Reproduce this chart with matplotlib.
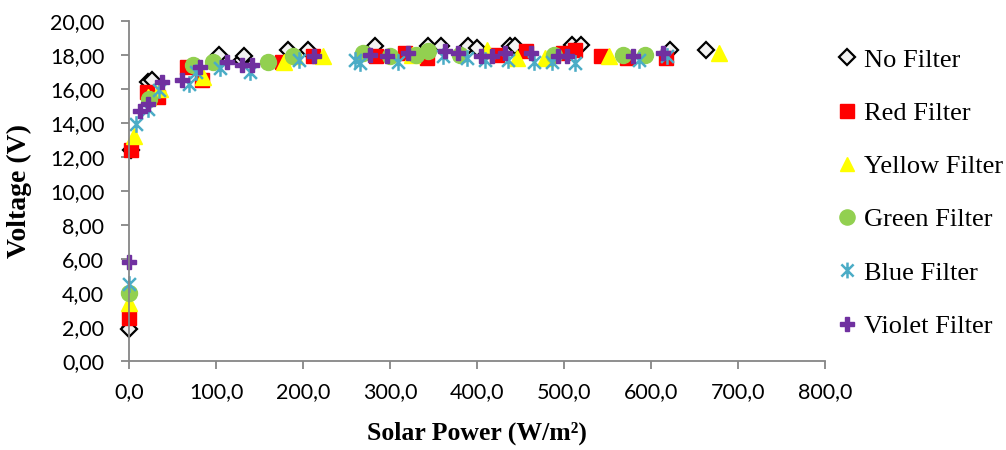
import matplotlib
matplotlib.use('Agg')
import matplotlib.pyplot as plt
from matplotlib.path import Path
from matplotlib.ticker import FuncFormatter

# Solar power (W/m2) and voltage (V) per filter
no_p = [0, 2, 21, 26, 103, 129, 132, 183, 206, 282, 344, 359, 390, 400, 438, 444, 509, 519, 622, 663]
no_v = [1.85, 12.4, 16.4, 16.5, 18.0, 17.7, 17.9, 18.3, 18.3, 18.5, 18.5, 18.5, 18.5, 18.4, 18.5, 18.5, 18.6, 18.6, 18.3, 18.3]

red_p = [0, 2, 20, 33, 66, 83, 175, 211, 284, 317, 342, 423, 456, 499, 513, 542, 572, 617]
red_v = [2.5, 12.4, 15.8, 15.5, 17.3, 16.5, 17.6, 17.9, 17.9, 18.1, 17.8, 18.0, 18.2, 18.1, 18.3, 17.9, 17.8, 17.8]

yel_p = [0, 5, 22, 35, 85, 178, 190, 223, 325, 411, 446, 478, 552, 678]
yel_v = [3.4, 13.2, 15.5, 16.0, 16.7, 17.6, 17.9, 17.9, 18.0, 18.3, 17.8, 17.8, 17.9, 18.1]

grn_p = [0, 23, 73, 96, 160, 188, 269, 300, 330, 344, 380, 488, 568, 593]
grn_v = [4.0, 15.4, 17.4, 17.6, 17.6, 17.9, 18.1, 17.9, 18.0, 18.2, 18.0, 18.0, 18.0, 18.0]

blu_p = [0, 8, 22, 34, 69, 77, 104, 139, 195, 260, 265, 309, 361, 388, 409, 436, 465, 486, 513, 586, 618]
blu_v = [4.5, 13.9, 14.8, 15.9, 16.3, 17.0, 17.2, 17.0, 17.7, 17.7, 17.5, 17.6, 17.9, 17.8, 17.7, 17.7, 17.6, 17.6, 17.5, 17.7, 17.9]

vio_p = [0, 12, 21, 38, 60, 81, 112, 130, 141, 212, 277, 296, 320, 363, 378, 405, 417, 432, 462, 493, 503, 579, 614]
vio_v = [5.8, 14.7, 15.1, 16.4, 16.5, 17.3, 17.6, 17.4, 17.4, 17.9, 18.0, 17.9, 18.1, 18.2, 18.1, 17.9, 17.9, 18.1, 18.1, 17.9, 17.9, 17.9, 18.1]

# excel style star: X with a vertical bar
star = Path([(-1, -1), (1, 1), (-1, 1), (1, -1), (0, -1.3), (0, 1.3)],
            [Path.MOVETO, Path.LINETO, Path.MOVETO, Path.LINETO, Path.MOVETO, Path.LINETO])

fig = plt.figure(figsize=(10.06, 4.5), dpi=100)
ax = fig.add_axes([0.1286, 0.198, 0.6914, 0.756])

kw = dict(ls='none', clip_on=False)
ax.plot(no_p, no_v, 'D', ms=8.5, mfc='#F2F2F2', mec='black', mew=1.6, label='No Filter', **kw)
ax.plot(red_p, red_v, 's', ms=10.5, color='#FF0000', label='Red Filter', **kw)
ax.plot(yel_p, yel_v, '^', ms=11, color='#FFFF00', label='Yellow Filter', **kw)
ax.plot(grn_p, grn_v, 'o', ms=11.5, color='#92D050', label='Green Filter', **kw)
ax.plot(blu_p, blu_v, marker=star, ms=12, mec='#4BACC6', mfc='none', mew=1.8, label='Blue Filter', **kw)
ax.plot(vio_p, vio_v, 'P', ms=10.5, color='#7030A0', label='Violet Filter', **kw)

ax.set_xlim(0, 800)
ax.set_ylim(0, 20)
ax.set_xticks(range(0, 801, 100))
ax.set_yticks(range(0, 21, 2))
ax.xaxis.set_major_formatter(FuncFormatter(lambda v, p: f'{v:.1f}'.replace('.', ',')))
ax.yaxis.set_major_formatter(FuncFormatter(lambda v, p: f'{v:.2f}'.replace('.', ',')))

for s in ['top', 'right']:
    ax.spines[s].set_visible(False)
for s in ['left', 'bottom']:
    ax.spines[s].set_color('#868686')
    ax.spines[s].set_linewidth(1.3)
ax.tick_params(direction='out', length=6, width=1.3, color='#868686', labelsize=15.5)
ax.tick_params(axis='y', pad=12)
ax.tick_params(axis='x', pad=9)
for lab in ax.get_xticklabels() + ax.get_yticklabels():
    lab.set_fontfamily('Lato')

ax.set_xlabel('Solar Power (W/m²)', fontsize=18.5, fontweight='bold', family='Liberation Serif', va='center')
ax.set_ylabel('Voltage (V)', fontsize=20, fontweight='bold', family='Liberation Serif')
ax.xaxis.set_label_coords(0.5, -0.213)
ax.yaxis.set_label_coords(-0.14, 0.5)

leg = ax.legend(loc='upper left', bbox_to_anchor=(0.809, 0.946), bbox_transform=fig.transFigure,
                frameon=False, prop={'family': 'Liberation Serif', 'size': 19},
                handlelength=0.7, handletextpad=0.3, labelspacing=1.13, markerscale=0.95)

fig.savefig('out.png', dpi=100)
